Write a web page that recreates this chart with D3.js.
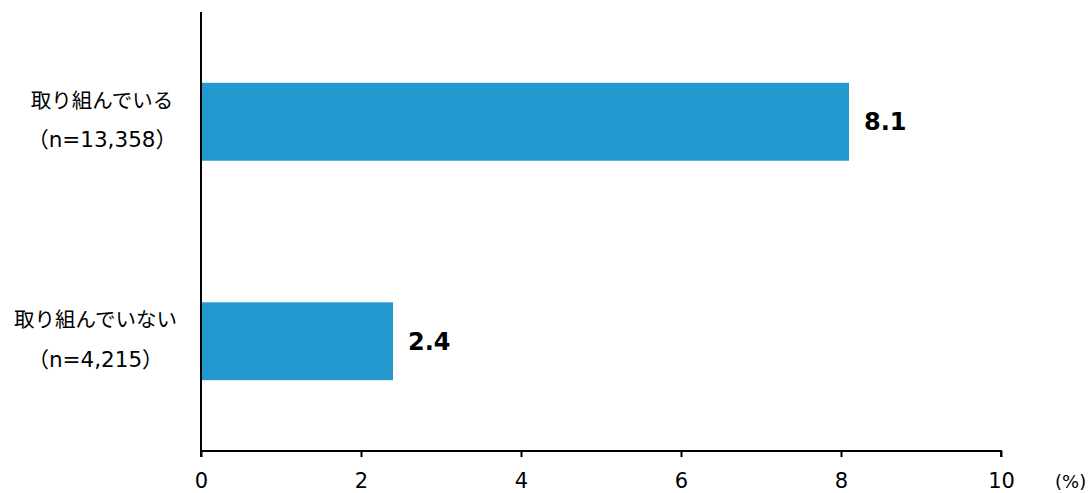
<!DOCTYPE html>
<html><head><meta charset="utf-8">
<script src="https://cdn.jsdelivr.net/npm/d3@7"></script>
<style>
html,body{margin:0;padding:0;background:#fff;}
svg{display:block;}
text{font-family:"DejaVu Sans","Noto Sans CJK JP",sans-serif;fill:#000;}
</style></head>
<body>
<svg id="c" width="1092" height="493"></svg>
<script>
const categories = ["取り組んでいる", "取り組んでいない"];
const sampleSizes = ["（n=13,358）", "（n=4,215）"];
const values = [8.1, 2.4];
const xTicks = [0, 2, 4, 6, 8, 10];
const unitLabel = "(%)";

const svg = d3.select("#c");
const m = {left: 201, right: 1001, top: 12, bottom: 451};

const x = d3.scaleLinear().domain([0, 10]).range([m.left, m.right]);
const y = d3.scaleBand().domain(categories).range([m.top, m.bottom])
  .paddingInner(0.645).paddingOuter(0.3225);

svg.selectAll("rect.bar").data(values).join("rect")
  .attr("class", "bar")
  .attr("x", x(0))
  .attr("y", (d, i) => y(categories[i]))
  .attr("width", d => x(d) - x(0))
  .attr("height", y.bandwidth())
  .attr("fill", "#2399D0");

svg.selectAll("text.val").data(values).join("text")
  .attr("class", "val")
  .attr("x", d => x(d) + 15)
  .attr("y", (d, i) => y(categories[i]) + y.bandwidth() / 2)
  .attr("dy", "0.36em")
  .attr("font-size", 24)
  .attr("font-weight", "bold")
  .text(d => d.toFixed(1));

// x axis
const xAxis = d3.axisBottom(x).tickValues(xTicks).tickSize(6).tickPadding(16).tickFormat(d3.format("d"));
const gx = svg.append("g").attr("transform", `translate(0,${m.bottom})`).call(xAxis);
gx.select(".domain").attr("stroke", "#000").attr("stroke-width", 2).attr("d", `M${m.left},6V0H${m.right}V6`);
gx.selectAll(".tick line").attr("stroke", "#000").attr("stroke-width", 2);
gx.selectAll(".tick text").attr("font-size", 21).attr("font-family", "DejaVu Sans").attr("fill", "#000");

// y axis line
svg.append("line").attr("x1", m.left).attr("x2", m.left).attr("y1", m.top).attr("y2", m.bottom + 1)
  .attr("stroke", "#000").attr("stroke-width", 2);

// category labels
const rightEdge = 177;
categories.forEach((c, i) => {
  const cy = y(c) + y.bandwidth() / 2;
  const g = svg.append("g");
  const t1 = g.append("text").attr("font-size", 20.5).attr("text-anchor", "middle")
    .attr("y", cy - 21).attr("dy", "0.35em").text(c);
  const t2 = g.append("text").attr("font-size", 21.5).attr("text-anchor", "middle")
    .attr("y", cy + 18).attr("dy", "0.35em").text(sampleSizes[i]);
  const w = Math.max(t1.node().getComputedTextLength(), t2.node().getComputedTextLength());
  const cx = rightEdge - w / 2;
  t1.attr("x", cx); t2.attr("x", cx);
});

svg.append("text").attr("x", 1055).attr("y", 488).attr("font-size", 18).text(unitLabel);
</script>
</body></html>
